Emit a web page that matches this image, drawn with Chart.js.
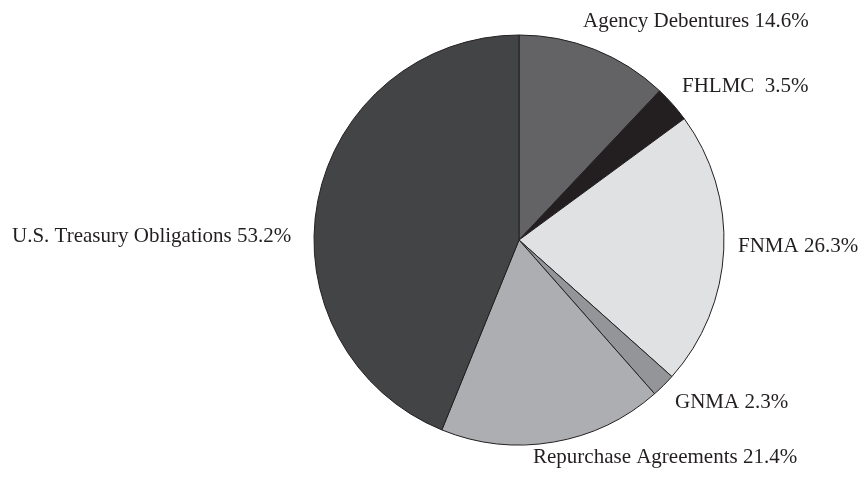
<!DOCTYPE html>
<html>
<head>
<meta charset="utf-8">
<script src="https://cdn.jsdelivr.net/npm/chart.js@4"></script>
<style>
  html, body { margin: 0; padding: 0; background: #fff; }
  #wrap { width: 864px; height: 482px; }
</style>
</head>
<body>
<div id="wrap"><canvas id="Chart" width="864" height="482"></canvas></div>
<script>
// data
const categories = ["Agency Debentures", "FHLMC", "FNMA", "GNMA", "Repurchase Agreements", "U.S. Treasury Obligations"];
const shares = [14.6, 3.5, 26.3, 2.3, 21.4, 53.2];
const labelTexts = ["Agency Debentures 14.6%", "FHLMC  3.5%", "FNMA 26.3%", "GNMA 2.3%", "Repurchase Agreements 21.4%", "U.S. Treasury Obligations 53.2%"];

// styles
const sliceColors = ["#636365", "#231f20", "#e0e1e3", "#939598", "#adaeb1", "#434446"];
// label anchor offsets from the pie centre (left edge, baseline)
const labelOffsets = [[64, -213], [163, -148], [219, 12], [156, 168], [14, 223], [-507, 2]];

const sliceLabels = {
  id: "sliceLabels",
  afterDatasetsDraw(chart) {
    const { ctx } = chart;
    const arc = chart.getDatasetMeta(0).data[0];
    ctx.save();
    ctx.font = "21px 'Liberation Serif', 'Times New Roman', serif";
    ctx.fillStyle = "#231f20";
    ctx.textAlign = "left";
    ctx.textBaseline = "alphabetic";
    labelTexts.forEach((t, i) => {
      ctx.fillText(t, arc.x + labelOffsets[i][0], arc.y + labelOffsets[i][1]);
    });
    ctx.restore();
  },
};

const ctx = document.getElementById("Chart");

new Chart(ctx, {
  type: "pie",
  data: {
    labels: categories,
    datasets: [
      {
        data: shares,
        backgroundColor: sliceColors,
        borderColor: "#231f20",
        borderWidth: 1,
      },
    ],
  },
  options: {
    responsive: false,
    animation: false,
    radius: 205,
    layout: { padding: { left: 174, right: 0, top: 0, bottom: 2 } },
    plugins: {
      legend: { display: false },
      tooltip: { enabled: false },
    },
  },
  plugins: [sliceLabels],
});
</script>
</body>
</html>
